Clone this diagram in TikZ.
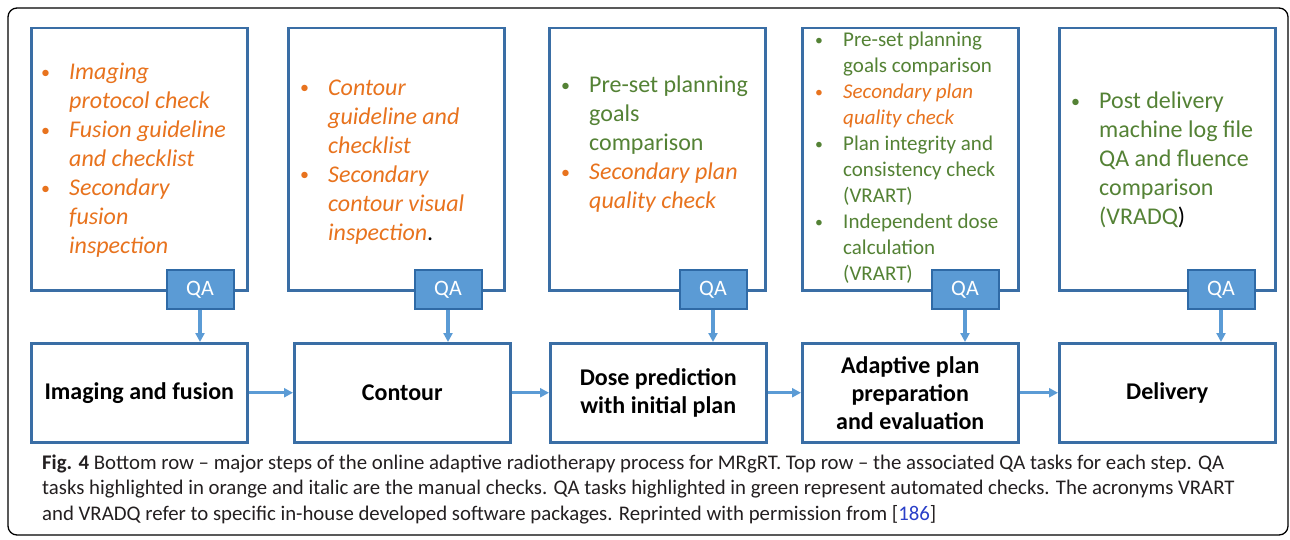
\documentclass[tikz,border=0pt]{standalone}
\usepackage{fontspec}
\setmainfont{Carlito}
\usetikzlibrary{arrows.meta}

\definecolor{boxblue}{HTML}{3A6EA5}
\definecolor{qablue}{HTML}{5B9BD5}
\definecolor{qaedge}{HTML}{2F6AA6}
\definecolor{manual}{HTML}{E8731E}
\definecolor{auto}{HTML}{548235}
\definecolor{captext}{HTML}{231F20}
\definecolor{linkblue}{HTML}{2A3FC8}

%% manual (orange, italic) and automated (green) checks
\newcommand{\man}[1]{{\color{manual}\itshape #1}}
\newcommand{\aut}[1]{{\color{auto}#1}}
\newcommand{\smallbul}{\raisebox{0.15ex}{\scalebox{0.75}{\textbullet}}}
\newcommand{\manbul}{\makebox[28pt][l]{\color{manual}\smallbul}}
\newcommand{\autbul}{\makebox[28pt][l]{\color{auto}\smallbul}}
\newcommand{\bigtask}{\fontsize{24}{29}\selectfont}
\newcommand{\smalltask}{\fontsize{21}{26}\selectfont}

\tikzset{
	task/.style={draw=boxblue, line width=2.5pt, fill=white, minimum width=216pt, minimum height=262pt, anchor=north west, inner sep=0pt},
	tasktext/.style={anchor=base west, inner sep=0pt},
	stepbox/.style={draw=boxblue, line width=2.5pt, fill=white, minimum width=216pt, minimum height=99pt, anchor=north west, align=center, font=\fontsize{24}{28}\selectfont\bfseries},
	qa/.style={draw=qaedge, line width=2pt, fill=qablue, text=white, minimum width=67pt, minimum height=39pt, inner sep=0pt, font=\fontsize{22}{26}\selectfont},
	flow/.style={-{Triangle[length=9pt,width=9pt]}, qablue, line width=3.2pt},
}

\begin{document}
\begin{tikzpicture}[x=1pt, y=-1pt]
\useasboundingbox (0,0) rectangle (1290,540);

%% Rahmen
\draw[black, line width=1.3pt, rounded corners=9pt] (8,8) rectangle (1288,535);

%% QA tasks (top row)
\node[task] (t1) at (30,27) {};
\node[task] (t2) at (287,27) {};
\node[task] (t3) at (548,27) {};
\node[task] (t4) at (801,27) {};
\node[task] (t5) at (1058,27) {};

\node[tasktext, font=\bigtask] (l1) at (41,80) {\begin{tabular}[t]{@{}l@{}l@{}}
	\manbul & \man{Imaging}\\
	& \man{protocol check}\\
	\manbul & \man{Fusion guideline}\\
	& \man{and checklist}\\
	\manbul & \man{Secondary}\\
	& \man{fusion}\\
	& \man{inspection}
\end{tabular}};
\node[tasktext, font=\bigtask] (l2) at (300,95.5) {\begin{tabular}[t]{@{}l@{}l@{}}
	\manbul & \man{Contour}\\
	& \man{guideline and}\\
	& \man{checklist}\\
	\manbul & \man{Secondary}\\
	& \man{contour visual}\\
	& \man{inspection}.
\end{tabular}};
\node[tasktext, font=\bigtask] (l3) at (561,93) {\begin{tabular}[t]{@{}l@{}l@{}}
	\autbul & \aut{Pre-set planning}\\
	& \aut{goals}\\
	& \aut{comparison}\\
	\manbul & \man{Secondary plan}\\
	& \man{quality check}
\end{tabular}};
\node[tasktext, font=\smalltask] (l4) at (815,47) {\begin{tabular}[t]{@{}l@{}l@{}}
	\autbul & \aut{Pre-set planning}\\
	& \aut{goals comparison}\\
	\manbul & \man{Secondary plan}\\
	& \man{quality check}\\
	\autbul & \aut{Plan integrity and}\\
	& \aut{consistency check}\\
	& \aut{(VRART)}\\
	\autbul & \aut{Independent dose}\\
	& \aut{calculation}\\
	& \aut{(VRART)}
\end{tabular}};
\node[tasktext, font=\bigtask] (l5) at (1071,109) {\begin{tabular}[t]{@{}l@{}l@{}}
	\autbul & \aut{Post delivery}\\
	& \aut{machine log file}\\
	& \aut{QA and fluence}\\
	& \aut{comparison}\\
	& \aut{(VRADQ})
\end{tabular}};

%% QA tags
\node[qa] (q1) at (200,289.5) {QA};
\node[qa] (q2) at (448,289.5) {QA};
\node[qa] (q3) at (713,289.5) {QA};
\node[qa] (q4) at (965,289.5) {QA};
\node[qa] (q5) at (1221,289.5) {QA};

%% process steps (bottom row)
\node[stepbox] (s1) at (30,342) {Imaging and fusion};
\node[stepbox] (s2) at (293,342) {Contour};
\node[stepbox] (s3) at (549,342) {Dose prediction\\with initial plan};
\node[stepbox] (s4) at (801,342) {Adaptive plan\\preparation\\and evaluation};
\node[stepbox] (s5) at (1058,342) {Delivery};

%% QA -> step
\draw[flow] (q1.south) -- (q1.south |- s1.north);
\draw[flow] (q2.south) -- (q2.south |- s2.north);
\draw[flow] (q3.south) -- (q3.south |- s3.north);
\draw[flow] (q4.south) -- (q4.south |- s4.north);
\draw[flow] (q5.south) -- (q5.south |- s5.north);

%% step -> step
\draw[flow] (s1.east) -- (s2.west);
\draw[flow] (s2.east) -- (s3.west);
\draw[flow] (s3.east) -- (s4.west);
\draw[flow] (s4.east) -- (s5.west);

%% Caption
\node[tasktext, text=captext, font=\fontsize{20.8}{25.5}\selectfont] (cap) at (42,469) {\begin{tabular}[t]{@{}l@{}}
	\textbf{Fig. 4} Bottom row – major steps of the online adaptive radiotherapy process for MRgRT. Top row – the associated QA tasks for each step. QA\\
	tasks highlighted in orange and italic are the manual checks. QA tasks highlighted in green represent automated checks. The acronyms VRART\\
	and VRADQ refer to specific in-house developed software packages. Reprinted with permission from [{\color{linkblue}186}]
\end{tabular}};

%\draw (current bounding box.south west) rectangle (current bounding box.north east);
\end{tikzpicture}
\end{document}
